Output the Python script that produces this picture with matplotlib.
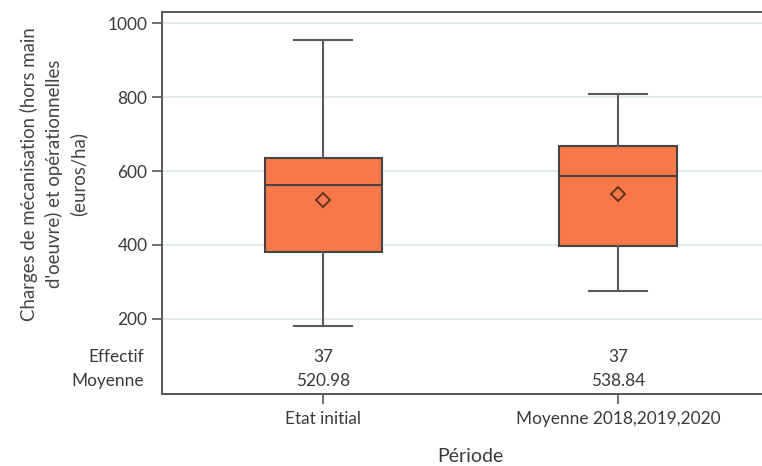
import matplotlib
matplotlib.use('Agg')
import matplotlib.pyplot as plt
import matplotlib.transforms as mtransforms

plt.rcParams['font.family'] = ['Lato', 'DejaVu Sans']

# data
periods = ['Etat initial', 'Moyenne 2018,2019,2020']
whis_low = [181, 276]
q1 = [382, 397]
median = [562, 587]
q3 = [636, 668]
whis_high = [954, 809]
means = [520.98, 538.84]
effectif = [37, 37]
y_ticks = [200, 400, 600, 800, 1000]

text_col = '#3a3a3a'
box_col = '#f8784a'
edge_col = '#444444'
fs = 12.4

fig = plt.figure(figsize=(7.62, 4.66), dpi=100)
ax = fig.add_axes([162 / 762, 1 - 394 / 466, 600 / 762, 382 / 466])

stats = []
for i in range(len(periods)):
    stats.append({'med': median[i], 'q1': q1[i], 'q3': q3[i],
                  'whislo': whis_low[i], 'whishi': whis_high[i],
                  'mean': means[i], 'fliers': []})

ax.bxp(stats, positions=[0, 1], widths=0.397, showmeans=True,
       patch_artist=True, capwidths=0.197,
       boxprops=dict(facecolor=box_col, edgecolor=edge_col, linewidth=1.5),
       medianprops=dict(color=edge_col, linewidth=1.5),
       whiskerprops=dict(color='#5a5a5a', linewidth=1.5),
       capprops=dict(color='#5a5a5a', linewidth=1.5),
       meanprops=dict(marker='D', markersize=7, markerfacecolor='none',
                      markeredgecolor='#5a3020', markeredgewidth=1.3),
       zorder=3)

# grid
for t in y_ticks:
    ax.axhline(t, color='#e2eaea', linewidth=1.5, zorder=1)

ax.set_xlim(-0.546, 1 + 144 / 295)
ax.set_ylim(-3, 1030)
ax.set_yticks(y_ticks)
ax.set_xticks([0, 1])
ax.set_xticklabels(periods)
ax.tick_params(axis='both', colors='#555555', labelcolor=text_col,
               labelsize=fs, length=7, width=1.2, direction='out')
ax.tick_params(axis='x', pad=5)
for s in ['left', 'top', 'bottom']:
    ax.spines[s].set_color('#555555')
    ax.spines[s].set_linewidth(1.4)
ax.spines['right'].set_visible(False)

# table of counts and means inside the plot area
tr = mtransforms.blended_transform_factory(ax.transData, ax.transAxes)
tr_lab = mtransforms.blended_transform_factory(fig.transFigure, ax.transAxes)
y_eff = (394 - 357) / 382
y_moy = (394 - 381) / 382
ax.text(144 / 762, y_eff, 'Effectif', transform=tr_lab, ha='right',
        va='center', fontsize=fs, color=text_col)
ax.text(144 / 762, y_moy, 'Moyenne', transform=tr_lab, ha='right',
        va='center', fontsize=fs, color=text_col)
for i in range(len(periods)):
    ax.text(i, y_eff, str(effectif[i]), transform=tr, ha='center',
            va='center', fontsize=fs, color=text_col)
    ax.text(i, y_moy, f'{means[i]:.2f}', transform=tr, ha='center',
            va='center', fontsize=fs, color=text_col)

fig.text(54 / 762, 1 - 174 / 466,
         "Charges de mécanisation (hors main\nd'oeuvre) et opérationnelles\n(euros/ha)",
         rotation=90, ha='center', va='center', fontsize=13.4,
         color='#444444', linespacing=1.45, multialignment='center')
fig.text(470 / 762, 1 - 457 / 466, 'Période', ha='center', va='center',
         fontsize=14, color=text_col)

fig.savefig('out.png', dpi=100)
